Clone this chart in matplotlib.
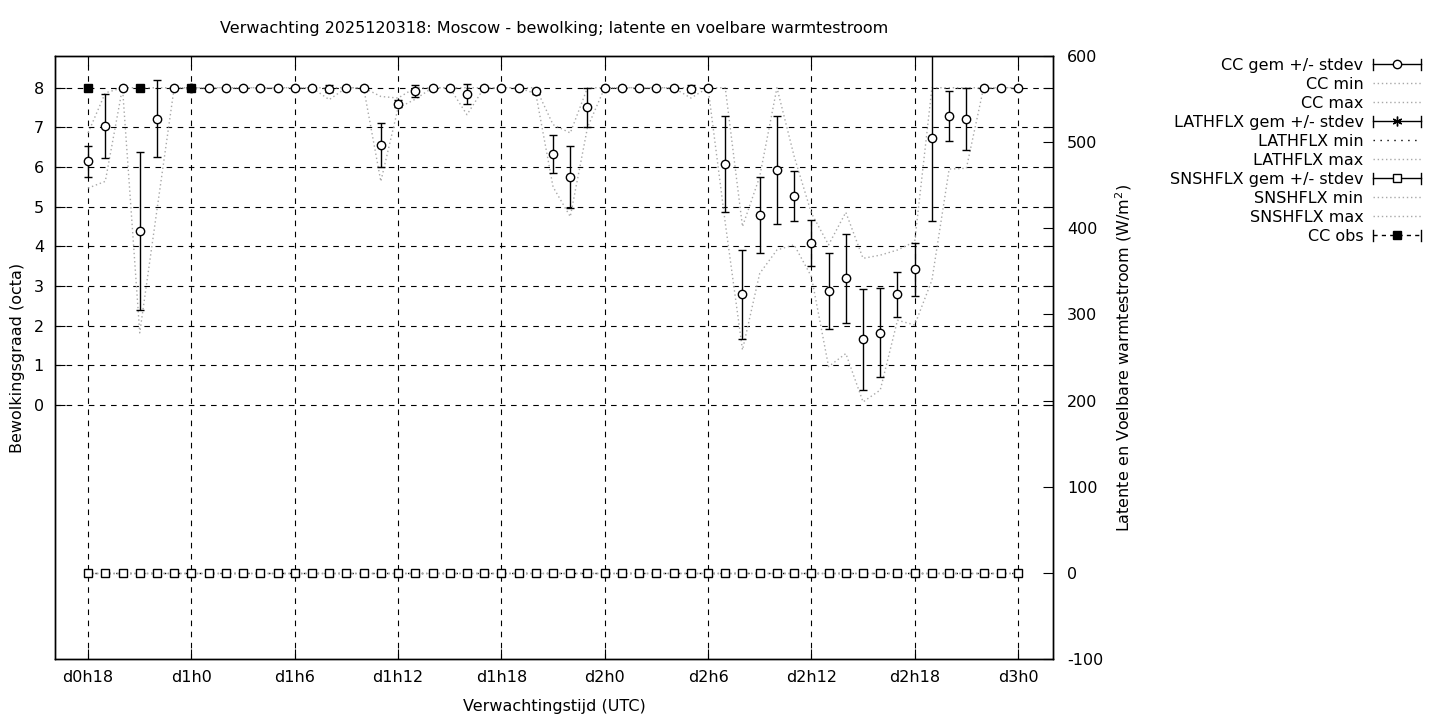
import matplotlib
matplotlib.use('Agg')
import matplotlib.pyplot as plt
import numpy as np
from matplotlib.lines import Line2D
from matplotlib.legend_handler import HandlerLine2D

plt.rcParams['axes.unicode_minus'] = False

# forecast hours (lead time from d0h0)
hours = np.arange(18, 73)

cc_mean = [6.15, 7.04, 8, 4.39, 7.22, 8, 8, 8, 8, 8, 8, 8, 8, 8, 7.98, 8, 8,
           6.56, 7.60, 7.92, 8, 8, 7.85, 8, 8, 8, 7.91, 6.33, 5.75, 7.51,
           8, 8, 8, 8, 8, 7.98, 8, 6.07, 2.79, 4.79, 5.92, 5.27, 4.08, 2.87,
           3.20, 1.66, 1.83, 2.79, 3.42, 6.73, 7.29, 7.21, 8, 8, 8]
cc_std = [0.39, 0.81, 0, 2.0, 0.97, 0, 0, 0, 0, 0, 0, 0, 0, 0, 0.09, 0, 0,
          0.55, 0.09, 0.16, 0, 0, 0.25, 0, 0, 0, 0.07, 0.47, 0.79, 0.49,
          0, 0, 0, 0, 0, 0.08, 0, 1.21, 1.12, 0.96, 1.36, 0.64, 0.58, 0.96,
          1.12, 1.27, 1.12, 0.56, 0.67, 2.1, 0.64, 0.79, 0, 0, 0]
cc_min = [5.47, 5.64, 8, 1.82, 4.92, 8, 8, 8, 8, 8, 8, 8, 8, 8, 7.70, 8, 8,
          5.64, 7.49, 7.71, 8, 8, 7.32, 8, 8, 8, 7.85, 5.5, 4.75, 7.0,
          8, 8, 8, 8, 8, 7.74, 8, 4.59, 1.39, 3.32, 3.91, 4.04, 3.24, 0.97,
          1.30, 0.08, 0.38, 2.14, 2.02, 3.15, 5.95, 5.97, 8, 8, 8]
cc_max = [6.86, 7.87, 8, 8, 8, 8, 8, 8, 8, 8, 8, 8, 8, 8, 8, 8, 8,
          7.78, 7.74, 8, 8, 8, 8, 8, 8, 8, 8, 7.07, 6.86, 8,
          8, 8, 8, 8, 8, 8, 8, 8, 4.5, 5.76, 8, 6.27, 4.84, 4.04,
          4.86, 3.70, 3.78, 3.91, 4.12, 8, 8, 8, 8, 8, 8]

# heat fluxes (W/m2) - all zero in this forecast
lath_mean = [0] * 55
lath_std = [0] * 55
lath_min = [0] * 55
lath_max = [0] * 55
snsh_mean = [0] * 55
snsh_std = [0] * 55
snsh_min = [0] * 55
snsh_max = [0] * 55

obs_hours = [18, 21, 24]
obs_cc = [8, 8, 8]

xtick_hours = [18, 24, 30, 36, 42, 48, 54, 60, 66, 72]
xtick_labels = ['d0h18', 'd1h0', 'd1h6', 'd1h12', 'd1h18', 'd2h0', 'd2h6',
                'd2h12', 'd2h18', 'd3h0']

title = 'Verwachting 2025120318: Moscow - bewolking; latente en voelbare warmtestroom'

grey = '#a8a8a8'
fs = 11.5


class CapHandler(HandlerLine2D):
  # gnuplot-like errorbar key sample |--o--|
  def create_artists(self, legend, orig_handle, xdescent, ydescent, width,
                     height, fontsize, trans):
    arts = super().create_artists(legend, orig_handle, xdescent, ydescent,
                                  width, height, fontsize, trans)
    y = height / 2 - ydescent
    for x in (-xdescent, -xdescent + width):
      arts.append(Line2D([x, x], [y - 4, y + 4], color='black', lw=1,
                         transform=trans))
    return arts


fig = plt.figure(figsize=(14.4, 7.2), dpi=100)
ax = fig.add_axes([55 / 1440, 61 / 720, 998 / 1440, 603 / 720])
ax2 = ax.twinx()

ax.plot(hours, cc_min, color=grey, lw=1, ls=(0, (1, 2)))
ax.plot(hours, cc_max, color=grey, lw=1, ls=(0, (1, 2)))
ax.errorbar(hours, cc_mean, yerr=cc_std, fmt='o', ms=6, mfc='white',
            mec='black', mew=1, ecolor='black', elinewidth=1, capsize=3,
            capthick=1, zorder=3)
ax.plot(obs_hours, obs_cc, 's', color='black', ms=6, zorder=4)

ax2.plot(hours, lath_min, color='black', lw=1, ls=(0, (1, 4)))
ax2.plot(hours, lath_max, color=grey, lw=1, ls=(0, (1, 2)))
ax2.plot(hours, snsh_min, color=grey, lw=1, ls=(0, (1, 2)))
ax2.plot(hours, snsh_max, color=grey, lw=1, ls=(0, (1, 2)))
ax2.errorbar(hours, lath_mean, yerr=lath_std, fmt='*', ms=5, color='black',
             capsize=3, elinewidth=1)
ax2.errorbar(hours, snsh_mean, yerr=snsh_std, fmt='s', ms=5.5, mfc='white',
             mec='black', mew=1, ecolor='black', elinewidth=1, capsize=3)

ax.set_xlim(16.08, 74.03)
ax.set_ylim(-6.4, 8.8)
ax2.set_ylim(-100, 600)

ax.set_xticks(xtick_hours)
ax.set_xticklabels(xtick_labels)
ax.set_yticks(range(0, 9))
ax2.set_yticks(range(-100, 601, 100))

ax.tick_params(axis='x', direction='in', length=7, top=True, labelsize=fs, pad=8)
ax.tick_params(axis='y', direction='in', length=7, right=True, labelsize=fs, pad=8)
ax2.tick_params(axis='y', direction='in', length=7, labelsize=fs, pad=10)

ax.grid(True, color='black', lw=0.8, ls=(0, (5, 5)))
for a in (ax, ax2):
  for s in a.spines.values():
    s.set_linewidth(1)

fig.text(554 / 1440, 1 - 29 / 720, title, ha='center', va='center', fontsize=fs)
fig.text(554 / 1440, 1 - 706 / 720, 'Verwachtingstijd (UTC)', ha='center',
         va='center', fontsize=fs)
fig.text(18 / 1440, 1 - 358 / 720, 'Bewolkingsgraad (octa)', rotation=90,
         ha='center', va='center', fontsize=fs)
fig.text(1124 / 1440, 1 - 358 / 720,
         'Latente en Voelbare warmtestroom (W/m$^2$)', rotation=90,
         ha='center', va='center', fontsize=fs)

h_cc = Line2D([], [], color='black', lw=1, marker='o', ms=6, mfc='white')
h_dot = Line2D([], [], color=grey, lw=1, ls=(0, (1, 2)))
h_lat = Line2D([], [], color='black', lw=1, marker=(6, 2, 0), ms=7)
h_latmin = Line2D([], [], color='black', lw=1, ls=(0, (1, 4)))
h_sn = Line2D([], [], color='black', lw=1, marker='s', ms=6, mfc='white')
h_obs = Line2D([], [], color='black', lw=1, ls=(0, (3, 3)), marker='s', ms=6)
cap = CapHandler()
ax2.legend([h_cc, h_dot, h_dot, h_lat, h_latmin, h_dot, h_sn, h_dot, h_dot, h_obs],
           ['CC gem +/- stdev', 'CC min', 'CC max', 'LATHFLX gem +/- stdev',
            'LATHFLX min', 'LATHFLX max', 'SNSHFLX gem +/- stdev',
            'SNSHFLX min', 'SNSHFLX max', 'CC obs'],
           handler_map={h_cc: cap, h_lat: cap, h_sn: cap, h_obs: cap},
           loc='upper right', bbox_to_anchor=(1421 / 1440, 1 - 58 / 720),
           bbox_transform=fig.transFigure, frameon=False, markerfirst=False,
           fontsize=fs, handlelength=3.0, handletextpad=0.6, labelspacing=0.25,
           borderpad=0, borderaxespad=0)

fig.savefig('out.png', dpi=100)
